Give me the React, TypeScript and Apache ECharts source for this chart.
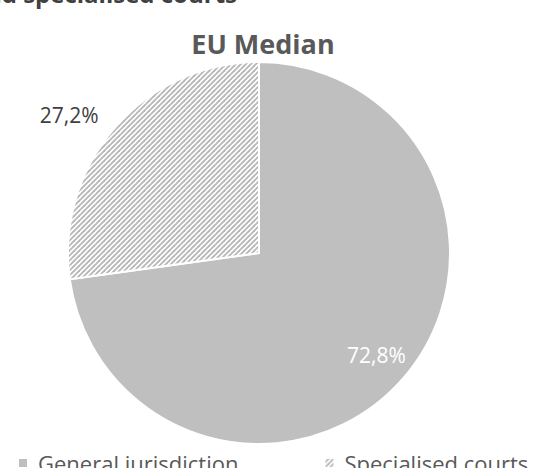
import React, { useEffect, useRef } from "react";
import * as echarts from "echarts";

const categories = ["General jurisdiction", "Specialised courts"];
const values = [72.8, 27.2];
const valueLabels = ["72,8%", "27,2%"];
const chartTitle = "EU Median";
const croppedHeading = "and specialised courts";

const FONT = "'Open Sans', 'Noto Sans', sans-serif";
const GREY = "#BFBFBF";

function makeHatch(): any {
  const n = 5;
  const c = document.createElement("canvas");
  c.width = n;
  c.height = n;
  const ctx = c.getContext("2d")!;
  ctx.fillStyle = "#FFFFFF";
  ctx.fillRect(0, 0, n, n);
  ctx.strokeStyle = "#B8B8B8";
  ctx.lineWidth = 1.9;
  for (const off of [-n, 0, n]) {
    ctx.beginPath();
    ctx.moveTo(off - 1, n + 1);
    ctx.lineTo(off + n + 1, -1);
    ctx.stroke();
  }
  return { image: c, repeat: "repeat" };
}

export default function App() {
  const ref = useRef<HTMLDivElement>(null);
  useEffect(() => {
    if (!ref.current) return;
    const chart = echarts.init(ref.current, undefined, { renderer: "svg" });
    const center = [259, 253];
    const R = 191;
    const hatch = makeHatch();
    const mainData = categories.map((name, i) => ({
      name,
      value: values[i],
      itemStyle: { color: i === 0 ? GREY : hatch },
    }));
    const labelData = categories.map((name, i) => ({
      name,
      value: values[i],
      label:
        i === 0
          ? { show: true, position: "inside", color: "#FFFFFF" }
          : { show: true, position: "outside", color: "#404040" },
    }));
    chart.setOption({
      animation: false,
      graphic: [
        {
          type: "text",
          x: 237,
          y: 5,
          style: {
            text: croppedHeading,
            font: `bold 24px ${FONT}`,
            fill: "#404040",
            textAlign: "right",
            textVerticalAlign: "bottom",
          },
        },
        {
          type: "text",
          x: 263,
          y: 43,
          style: {
            text: chartTitle,
            font: `bold 27px ${FONT}`,
            fill: "#595959",
            textAlign: "center",
            textVerticalAlign: "middle",
          },
        },
      ],
      legend: {
        data: categories,
        left: 17,
        top: 452,
        padding: 0,
        itemWidth: 10,
        itemHeight: 10,
        itemGap: 85,
        icon: "rect",
        textStyle: { fontFamily: FONT, fontSize: 22, color: "#595959", padding: [0, 0, 0, 5] },
        selectedMode: false,
      },
      series: [
        {
          type: "pie",
          center,
          radius: R,
          startAngle: 90,
          clockwise: true,
          silent: true,
          avoidLabelOverlap: false,
          label: { show: false },
          labelLine: { show: false },
          itemStyle: { borderColor: "#FFFFFF", borderWidth: 2 },
          data: mainData,
        },
        {
          type: "pie",
          center,
          radius: [R * 0.6, R],
          startAngle: 90,
          clockwise: true,
          silent: true,
          avoidLabelOverlap: false,
          itemStyle: { color: "rgba(0,0,0,0)", borderWidth: 0 },
          label: {
            fontFamily: FONT,
            fontSize: 21,
            distanceToLabelLine: 2,
            formatter: (p: any) => valueLabels[p.dataIndex],
          },
          labelLine: { show: false, length: 19, length2: 0 },
          data: labelData,
        },
      ],
    });
    return () => chart.dispose();
  }, []);
  return (
    <div
      ref={ref}
      style={{ position: "fixed", left: 0, top: 0, width: 538, height: 468, background: "#fff" }}
    />
  );
}
